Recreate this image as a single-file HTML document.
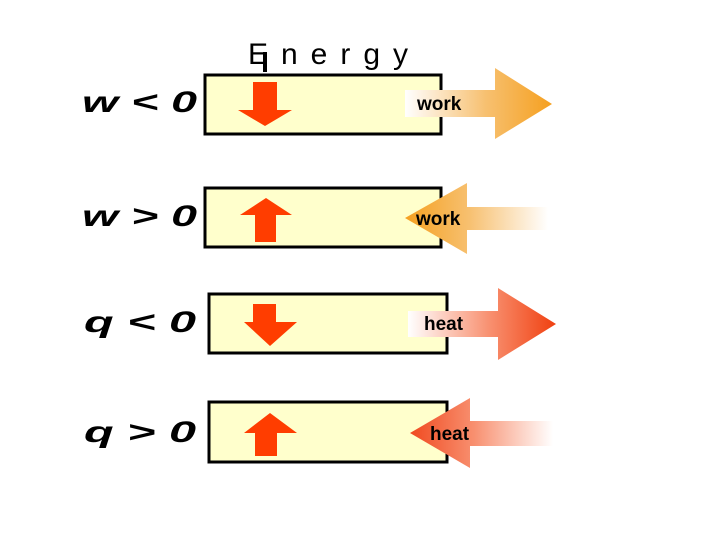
<!DOCTYPE html>
<html><head><style>body{margin:0;background:#fff}svg{display:block}</style></head><body>
<svg width="720" height="540" viewBox="0 0 720 540" xmlns="http://www.w3.org/2000/svg">
<defs>
<linearGradient id="wr" x1="405" x2="552" y1="0" y2="0" gradientUnits="userSpaceOnUse"><stop offset="0" stop-color="#fff"/><stop offset="0.55" stop-color="#f7c070"/><stop offset="1" stop-color="#f5a020"/></linearGradient>
<linearGradient id="wl" x1="405" x2="548" y1="0" y2="0" gradientUnits="userSpaceOnUse"><stop offset="0" stop-color="#f5a020"/><stop offset="0.45" stop-color="#f7c070"/><stop offset="1" stop-color="#fff"/></linearGradient>
<linearGradient id="hr" x1="408" x2="556" y1="0" y2="0" gradientUnits="userSpaceOnUse"><stop offset="0" stop-color="#fff"/><stop offset="0.55" stop-color="#f89070"/><stop offset="1" stop-color="#f04010"/></linearGradient>
<linearGradient id="hl" x1="410" x2="553" y1="0" y2="0" gradientUnits="userSpaceOnUse"><stop offset="0" stop-color="#f04a20"/><stop offset="0.45" stop-color="#f89070"/><stop offset="1" stop-color="#fff"/></linearGradient>
</defs>
<g font-family="Liberation Sans, sans-serif" font-size="30" fill="#000">
<text x="82" y="112" font-weight="bold" font-style="italic" textLength="115" lengthAdjust="spacingAndGlyphs">w &lt; 0</text>
<text x="82" y="226" font-weight="bold" font-style="italic" textLength="115" lengthAdjust="spacingAndGlyphs">w &gt; 0</text>
<text x="84" y="332" font-weight="bold" font-style="italic" textLength="112" lengthAdjust="spacingAndGlyphs">q &lt; 0</text>
<text x="84" y="442" font-weight="bold" font-style="italic" textLength="112" lengthAdjust="spacingAndGlyphs">q &gt; 0</text>
<text x="248" y="64" textLength="160" lengthAdjust="spacing">Energy</text>
</g>
<g fill="#ffffcc" stroke="#000" stroke-width="3">
<rect x="205" y="75" width="236" height="59"/>
<rect x="205" y="188" width="236" height="59"/>
<rect x="209" y="294" width="238" height="59"/>
<rect x="209" y="402" width="238" height="60"/>
</g>
<rect x="263" y="52" width="4" height="20" fill="#000"/>
<g fill="#ff3d00">
<polygon points="253,82 277,82 277,110 292,110 265,126 238,110 253,110"/>
<polygon points="240,215 266,198 292,215 276,215 276,242 255,242 255,215"/>
<polygon points="253,304 276,304 276,322 297,322 270,346 244,322 253,322"/>
<polygon points="244,433 270,413 297,433 277,433 277,456 255,456 255,433"/>
</g>
<polygon points="405,90 495,90 495,68 552,104 495,139 495,117 405,117" fill="url(#wr)"/>
<polygon points="405,218 467,183 467,207 548,207 548,230 467,230 467,254" fill="url(#wl)"/>
<polygon points="408,311 498,311 498,288 556,324 498,360 498,337 408,337" fill="url(#hr)"/>
<polygon points="410,433 470,398 470,421 553,421 553,446 470,446 470,468" fill="url(#hl)"/>
<g font-family="Liberation Sans, sans-serif" font-size="19" font-weight="bold" fill="#000">
<text x="417" y="110">work</text>
<text x="416" y="225">work</text>
<text x="424" y="330">heat</text>
<text x="430" y="440">heat</text>
</g>
</svg>
</body></html>
